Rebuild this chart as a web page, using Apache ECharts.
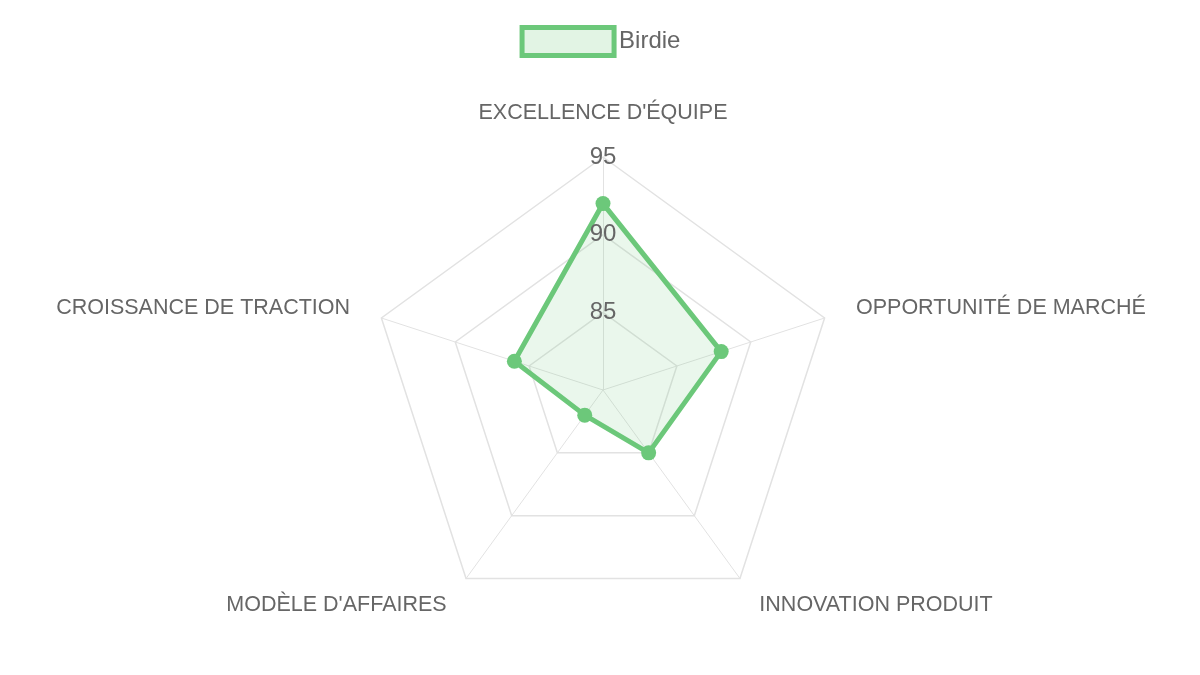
<!DOCTYPE html>
<html><head><meta charset="utf-8">
<script src="https://cdn.jsdelivr.net/npm/echarts@6/dist/echarts.min.js"></script>
<style>html,body{margin:0;background:#fff}#c{width:1200px;height:675px}</style>
</head><body><div id="c"></div>
<script>
const categories = ["EXCELLENCE D'ÉQUIPE","OPPORTUNITÉ DE MARCHÉ","INNOVATION PRODUIT","MODÈLE D'AFFAIRES","CROISSANCE DE TRACTION"];
const birdie = [92, 88, 85, 82, 86];
const scaleMin = 80, scaleMax = 95, scaleStep = 5;
// ECharts radar runs counter-clockwise; reorder to go clockwise like the reference
const order = [0,4,3,2,1];
const cats = order.map(i=>categories[i]);
const vals = order.map(i=>birdie[i]);
const chart = echarts.init(document.getElementById('c'));
chart.setOption({
  animation:false,
  legend:{top:20,left:'center',itemWidth:92,itemHeight:28,itemGap:14,
    textStyle:{fontSize:24,color:'#666',fontFamily:'Liberation Sans'},
    data:[{name:'Birdie',icon:'rect',itemStyle:{color:'rgba(108,200,122,0.2)',borderColor:'#6cc87a',borderWidth:5}}]},
  radar:{center:[603,390],radius:233,startAngle:90,splitNumber:3,shape:'polygon',
    indicator:cats.map(n=>({name:n,min:scaleMin,max:scaleMax})),
    axisName:{color:'#666',fontSize:21.5,fontFamily:'Liberation Sans'},nameGap:33,
    axisLine:{lineStyle:{color:'#e2e2e2'}},
    splitLine:{lineStyle:{color:'#e2e2e2',width:1.5}},
    splitArea:{show:false},axisLabel:{show:false}},
  polar:{center:[603,390],radius:233},
  angleAxis:{show:false,startAngle:90,min:0,max:360},
  radiusAxis:{min:scaleMin,max:scaleMax,interval:scaleStep,z:20,
    axisLine:{show:false},axisTick:{show:false},splitLine:{show:false},
    axisLabel:{margin:0,align:'center',fontSize:24,color:'#666',fontFamily:'Liberation Sans',
      formatter:v=>v===scaleMin?'':String(v)}},
  series:[{type:'radar',name:'Birdie',symbol:'circle',symbolSize:15,
    lineStyle:{color:'#6cc87a',width:5},itemStyle:{color:'#6cc87a'},
    areaStyle:{color:'rgba(108,200,122,0.2)'},
    data:[{value:vals,name:'Birdie'}]}]
});
</script></body></html>
